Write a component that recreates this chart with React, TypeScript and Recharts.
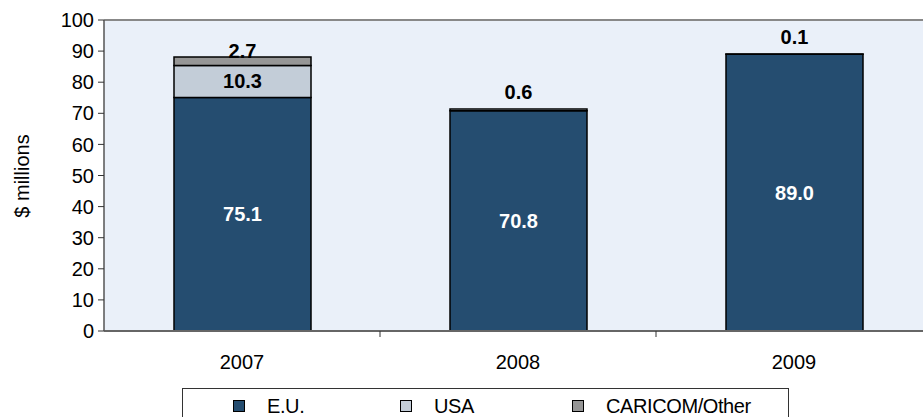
import React from 'react';
import {
  BarChart, Bar, XAxis, YAxis, CartesianGrid, ReferenceLine, LabelList,
} from 'recharts';

const years = ['2007', '2008', '2009'];
const euValues = [75.1, 70.8, 89.0];
const usaValues = [10.3, 0.6, 0];
const otherValues = [2.7, 0, 0.1];
const yTicks = [0, 10, 20, 30, 40, 50, 60, 70, 80, 90, 100];

const seriesInfo = [
  { key: 'eu', name: 'E.U.', color: '#254D70' },
  { key: 'usa', name: 'USA', color: '#C3CDD8' },
  { key: 'other', name: 'CARICOM/Other', color: '#969696' },
];

const chartData = years.map((year, i) => ({
  year,
  eu: euValues[i],
  usa: usaValues[i],
  other: otherValues[i],
}));

const FONT = '"Liberation Sans", Arial, sans-serif';
const TICK_SIZE = 6;
const TICK_MARGIN = 18;

// big segments get the label inside, small ones sit above the stack
const makeLabel = (fill: string) => (props: any) => {
  const { x, y, width, height, value } = props;
  if (!value) return null;
  const cx = Number(x) + Number(width) / 2;
  const h = Math.abs(Number(height));
  const top = Number(y);
  const big = value >= 5;
  const cy = big ? top + h / 2 : top - (h > 5 ? 6 : 17);
  return (
    <text
      x={cx}
      y={cy}
      textAnchor="middle"
      dominantBaseline="central"
      fontFamily={FONT}
      fontSize={20}
      fontWeight="bold"
      fill={big ? fill : '#000'}
    >
      {value.toFixed(1)}
    </text>
  );
};

// year label plus a tick mark on the category boundary to its left
const YearTick = (p: any) => {
  const half = p.payload && p.payload.offset ? p.payload.offset : 138;
  const axisY = p.y - TICK_SIZE - TICK_MARGIN;
  const left = p.x - half;
  return (
    <g>
      {p.index > 0 && (
        <line x1={left} x2={left} y1={axisY} y2={axisY + TICK_SIZE} stroke="#333" strokeWidth={1} />
      )}
      <text x={p.x} y={p.y} dy="0.71em" textAnchor="middle" fontFamily={FONT} fontSize={20} fill="#000">
        {p.payload.value}
      </text>
    </g>
  );
};

const YLabel = () => (
  <text
    x={22}
    y={176}
    transform="rotate(-90 22 176)"
    textAnchor="middle"
    dominantBaseline="central"
    fontFamily={FONT}
    fontSize={20}
    fill="#000"
  >
    $ millions
  </text>
);

const legendX = [50, 217, 389];

export default function App() {
  return (
    <div style={{ position: 'absolute', left: 0, top: 0, width: 923, height: 417, overflow: 'hidden', background: '#fff' }}>
      <BarChart
        width={936}
        height={417}
        data={chartData}
        margin={{ top: 20, right: 4, left: 0, bottom: 56 }}
      >
        <CartesianGrid horizontal={false} vertical={false} fill="#EAF0F9" />
        <XAxis
          dataKey="year"
          height={30}
          interval={0}
          tickLine={false}
          tickSize={TICK_SIZE}
          tickMargin={TICK_MARGIN}
          axisLine={{ stroke: '#666', strokeWidth: 2 }}
          tick={<YearTick />}
        />
        <YAxis
          width={104}
          domain={[0, 100]}
          ticks={yTicks}
          interval={0}
          tickSize={6}
          tickMargin={4}
          axisLine={{ stroke: '#555', strokeWidth: 1.5 }}
          tickLine={{ stroke: '#333' }}
          tick={{ fontFamily: FONT, fontSize: 20, fill: '#000' }}
          label={<YLabel />}
        />
        <ReferenceLine y={100} stroke="#888" strokeWidth={2} />
        <Bar dataKey="eu" name="E.U." stackId="a" fill="#254D70" stroke="#000" strokeWidth={1.5} barSize={137} isAnimationActive={false}>
          <LabelList dataKey="eu" content={makeLabel('#fff')} />
        </Bar>
        <Bar dataKey="usa" name="USA" stackId="a" fill="#C3CDD8" stroke="#000" strokeWidth={1.5} barSize={137} isAnimationActive={false}>
          <LabelList dataKey="usa" content={makeLabel('#000')} />
        </Bar>
        <Bar dataKey="other" name="CARICOM/Other" stackId="a" fill="#969696" stroke="#000" strokeWidth={1.5} barSize={137} isAnimationActive={false}>
          <LabelList dataKey="other" content={makeLabel('#000')} />
        </Bar>
      </BarChart>
      <div
        style={{
          position: 'absolute',
          left: 182,
          top: 388,
          width: 607,
          height: 40,
          border: '1px solid #333',
          boxSizing: 'border-box',
          fontFamily: FONT,
          fontSize: 20,
        }}
      >
        {seriesInfo.map((s, i) => (
          <div key={s.key} style={{ position: 'absolute', left: legendX[i], top: 6, display: 'flex', alignItems: 'center', height: 22 }}>
            <span style={{ width: 10, height: 10, background: s.color, border: '1px solid #000', display: 'inline-block' }} />
            <span style={{ marginLeft: 22, letterSpacing: -0.4 }}>{s.name}</span>
          </div>
        ))}
      </div>
    </div>
  );
}
